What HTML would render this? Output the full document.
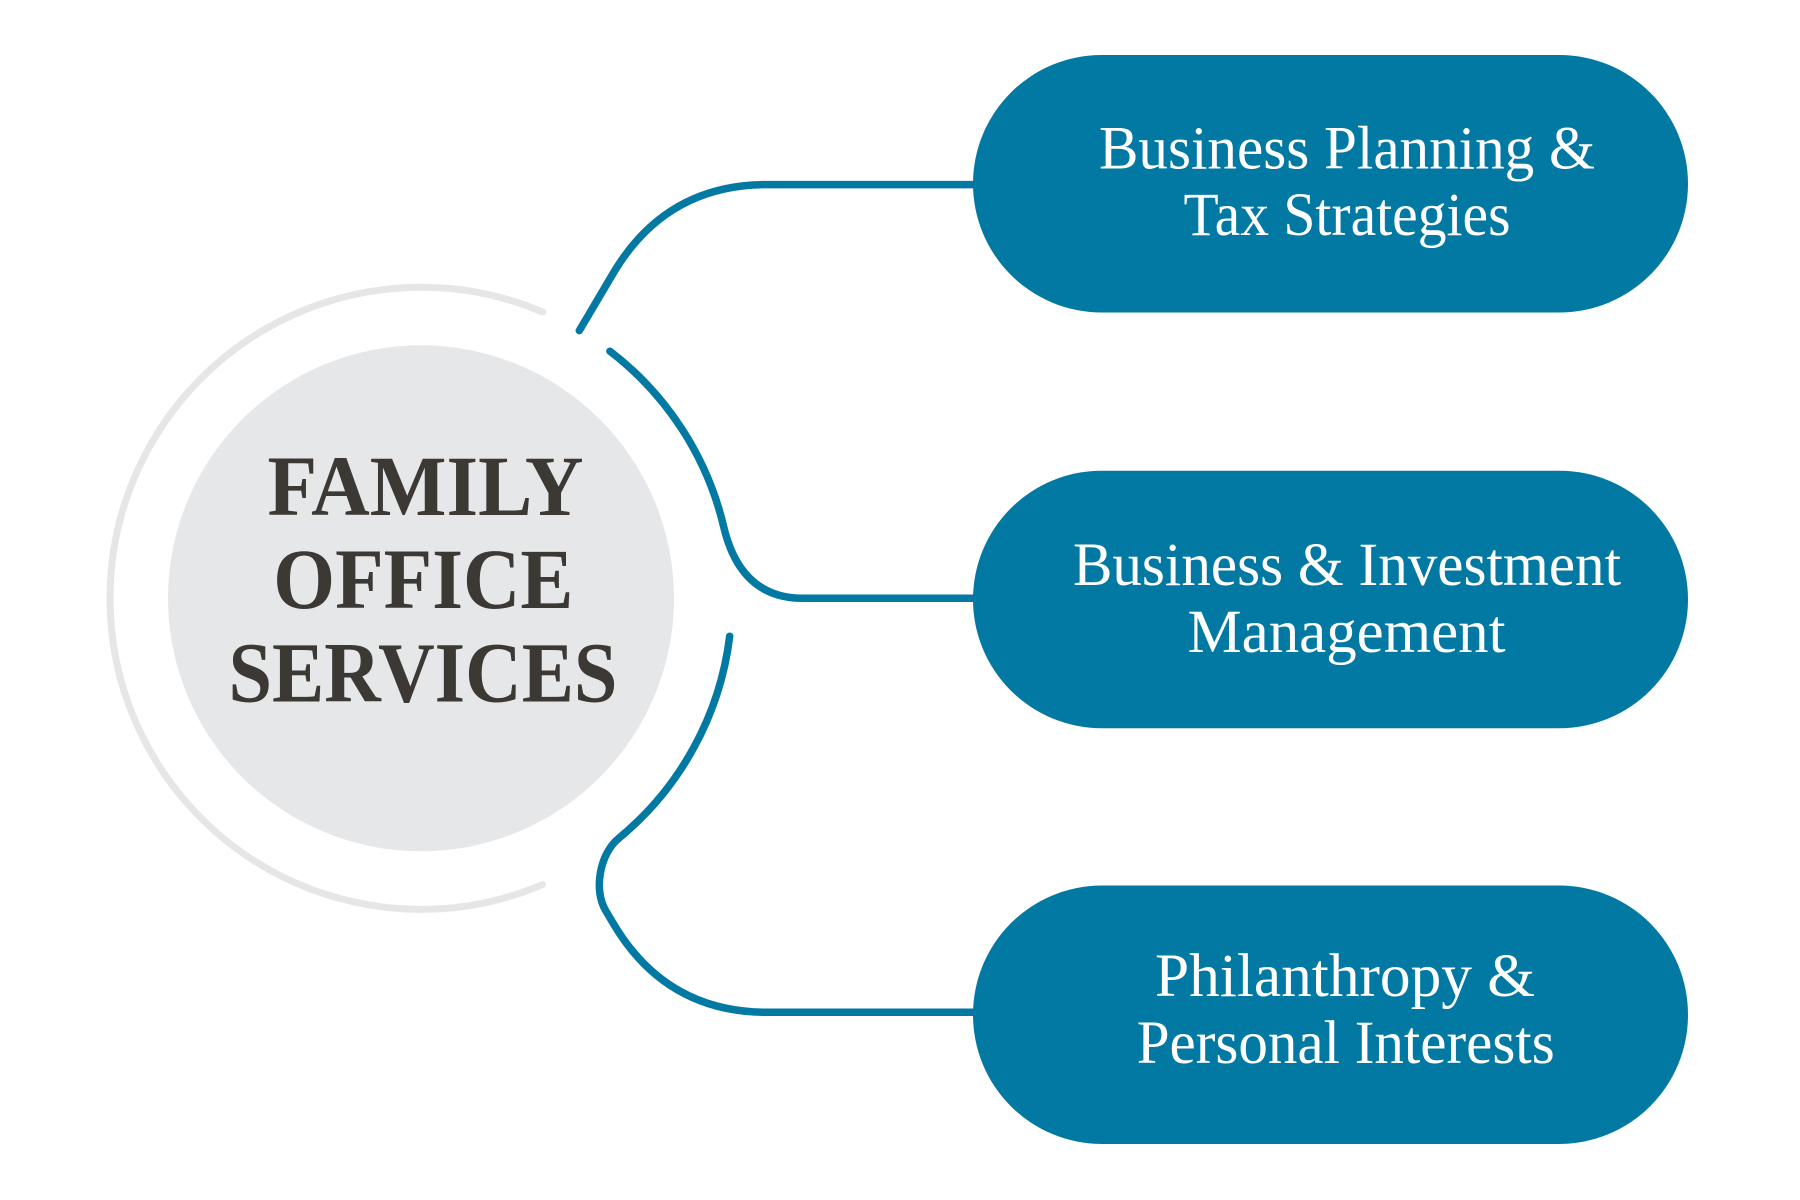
<!DOCTYPE html>
<html>
<head>
<meta charset="utf-8">
<style>
  html, body { margin: 0; padding: 0; background: #ffffff; }
  svg { display: block; }
  .pill { font-family: "Liberation Serif", "DejaVu Serif", serif; font-size: 61px; fill: #ffffff; }
  .center { font-family: "Liberation Serif", "DejaVu Serif", serif; font-weight: bold; font-size: 86px; fill: #3c3935; }
</style>
</head>
<body>
<svg width="1800" height="1200" viewBox="0 0 1800 1200" xmlns="http://www.w3.org/2000/svg">
  <rect x="0" y="0" width="1800" height="1200" fill="#ffffff"/>

  <!-- outer gray ring arc -->
  <path d="M 542.5 312 A 311 311 0 1 0 542.5 884.6" fill="none" stroke="#e6e6e7" stroke-width="7" stroke-linecap="round"/>

  <!-- center gray circle -->
  <circle cx="421" cy="598.3" r="253" fill="#e6e7e9"/>

  <!-- connectors -->
  <g fill="none" stroke="#0179a3" stroke-width="7.5" stroke-linecap="round" stroke-linejoin="round">
    <!-- top -->
    <path d="M 579.3 330.6 L 613.2 273.3 Q 665.7 184.6 767 184.6 L 975 184.6"/>
    <!-- middle -->
    <path d="M 609.9 351.2 A 311 311 0 0 1 723.7 526.8 Q 740.6 598.3 803 598.3 L 975 598.3"/>
    <!-- bottom -->
    <path d="M 729.7 636.2 A 311 311 0 0 1 618.4 838.6 C 599.8 853.9 593.4 889.9 605.6 910.5 L 613.2 923.3 Q 665.7 1012.3 767 1012.3 L 975 1012.3"/>
  </g>

  <!-- pills -->
  <rect x="973" y="55" width="715" height="257.5" rx="128.7" ry="128.7" fill="#0179a3"/>
  <rect x="973" y="470.7" width="715" height="257.5" rx="128.7" ry="128.7" fill="#0179a3"/>
  <rect x="973" y="885.5" width="715" height="258.5" rx="129" ry="129" fill="#0179a3"/>

  <!-- pill text -->
  <text class="pill" x="1099" y="168.5" textLength="496" lengthAdjust="spacingAndGlyphs">Business Planning &amp;</text>
  <text class="pill" x="1183.5" y="235" textLength="327" lengthAdjust="spacingAndGlyphs">Tax Strategies</text>

  <text class="pill" x="1073" y="585" textLength="548" lengthAdjust="spacingAndGlyphs">Business &amp; Investment</text>
  <text class="pill" x="1187.5" y="652" textLength="318" lengthAdjust="spacingAndGlyphs">Management</text>

  <text class="pill" x="1155" y="996" textLength="380" lengthAdjust="spacingAndGlyphs">Philanthropy &amp;</text>
  <text class="pill" x="1136.7" y="1063" textLength="418" lengthAdjust="spacingAndGlyphs">Personal Interests</text>

  <!-- center text -->
  <text class="center" x="267.5" y="515" textLength="316" lengthAdjust="spacingAndGlyphs">FAMILY</text>
  <text class="center" x="273.3" y="608" textLength="300" lengthAdjust="spacingAndGlyphs">OFFICE</text>
  <text class="center" x="228.5" y="701.5" textLength="389" lengthAdjust="spacingAndGlyphs">SERVICES</text>
</svg>
</body>
</html>
